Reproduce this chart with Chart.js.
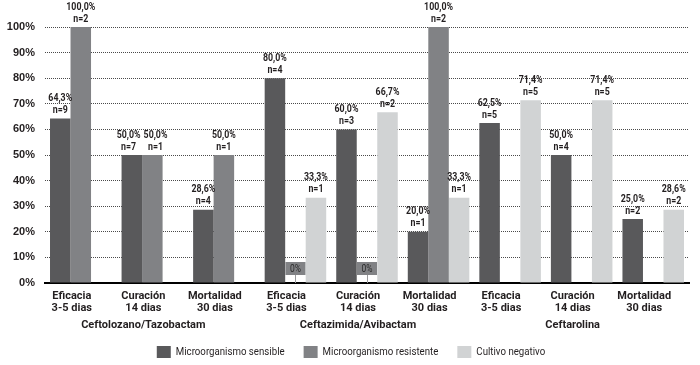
<!DOCTYPE html>
<html>
<head>
<meta charset="utf-8">
<script src="https://cdn.jsdelivr.net/npm/chart.js@4.4.1/dist/chart.umd.min.js"></script>
<style>
  html, body { margin: 0; padding: 0; background: #fff; }
  #wrap { width: 700px; height: 365px; }
</style>
</head>
<body>
<div id="wrap"><canvas id="barras"></canvas></div>
<script>
// categorias del eje x
var categorias = [
    ['Eficacia', '3-5 dias'], ['Curación', '14 dias'], ['Mortalidad', '30 dias'],
    ['Eficacia', '3-5 dias'], ['Curación', '14 dias'], ['Mortalidad', '30 dias'],
    ['Eficacia', '3-5 dias'], ['Curación', '14 dias'], ['Mortalidad', '30 dias']
];
var farmacos = ['Ceftolozano/Tazobactam', 'Ceftazimida/Avibactam', 'Ceftarolina'];
var farmacoCentro = [1, 4, 7];

// porcentajes y n de cada serie
var sensible = [64.3, 50.0, 28.6, 80.0, 60.0, 20.0, 62.5, 50.0, 25.0];
var sensibleN = [9, 7, 4, 4, 3, 1, 5, 4, 2];
var resistente = [100.0, 50.0, 50.0, 0, 0, 100.0, null, null, null];
var resistenteN = [2, 1, 1, null, null, 2, null, null, null];
var negativo = [null, null, null, 33.3, 66.7, 33.3, 71.4, 71.4, 28.6];
var negativoN = [null, null, null, 1, 2, 1, 5, 5, 2];

var yTicks = [0, 10, 20, 30, 40, 50, 60, 70, 80, 90, 100];

var fuente = 'Roboto, "DejaVu Sans", sans-serif';

function fmt(v) {
    return v.toFixed(1).replace('.', ',') + '%';
}

// texto estrechado a mano
function texto(ctx, s, x, y, sx) {
    ctx.save();
    ctx.translate(x, y);
    ctx.scale(sx, 1);
    ctx.fillText(s, 0, 0);
    ctx.restore();
}

var etiquetas = {
    id: 'etiquetas',
    afterDatasetsDraw: function(chart) {
        var ctx = chart.ctx;
        var ns = [sensibleN, resistenteN, negativoN];
        var base = chart.scales.y.getPixelForValue(0);
        var sx = 0.84;
        ctx.save();
        ctx.textAlign = 'center';
        ctx.textBaseline = 'middle';
        for (var i = 0; i < categorias.length; i++) {
            var items = [];
            chart.data.datasets.forEach(function(ds, di) {
                var v = ds.data[i];
                if (v === null || v === undefined) return;
                var bar = chart.getDatasetMeta(di).data[i];
                if (v === 0) {
                    // cajita 0%
                    ctx.strokeStyle = '#9a9a9c';
                    ctx.lineWidth = 1;
                    ctx.beginPath();
                    ctx.moveTo(Math.round(bar.x) + 0.5, base - 8);
                    ctx.lineTo(Math.round(bar.x) + 0.5, base);
                    ctx.stroke();
                    ctx.fillStyle = '#818285';
                    ctx.fillRect(bar.x - 10, base - 21, 20, 13);
                    ctx.fillStyle = '#2b2b2b';
                    ctx.font = '10px ' + fuente;
                    texto(ctx, '0%', bar.x, base - 14, 0.85);
                    return;
                }
                ctx.font = 'bold 10.5px ' + fuente;
                items.push({ x: bar.x, y: bar.y, s: fmt(v), n: 'n=' + ns[di][i],
                             w: ctx.measureText(fmt(v)).width * sx });
            });
            // separar etiquetas que se pisan a la misma altura
            for (var k = 1; k < items.length; k++) {
                var a = items[k - 1], b = items[k];
                if (Math.abs(a.y - b.y) < 12) {
                    var solape = (a.x + a.w / 2) - (b.x - b.w / 2) + 3;
                    if (solape > 0) { a.x -= solape / 2; b.x += solape / 2; }
                }
            }
            ctx.fillStyle = '#231f20';
            ctx.font = 'bold 10.5px ' + fuente;
            items.forEach(function(it) {
                texto(ctx, it.s, it.x, it.y - 20, sx);
                texto(ctx, it.n, it.x, it.y - 8, sx);
            });
        }
        ctx.restore();
    },
    afterDraw: function(chart) {
        var ctx = chart.ctx;
        var x = chart.scales.x;
        var bottom = chart.chartArea.bottom;
        ctx.save();
        ctx.fillStyle = '#231f20';
        ctx.font = 'bold 11px ' + fuente;
        ctx.textAlign = 'center';
        ctx.textBaseline = 'middle';
        for (var i = 0; i < farmacos.length; i++) {
            ctx.fillText(farmacos[i], x.getPixelForValue(farmacoCentro[i]) - 9, bottom + 42);
        }

        // leyenda
        var sx = 0.88;
        var caja = 14, hueco = 5, sep = 19;
        ctx.font = '11px ' + fuente;
        var anchos = chart.data.datasets.map(function(ds) {
            return ctx.measureText(ds.label).width * sx;
        });
        var total = 0;
        anchos.forEach(function(w) { total += caja + hueco + w; });
        total += sep * (anchos.length - 1);
        var lx = 351 - total / 2;
        var ly = bottom + 69;
        ctx.textAlign = 'left';
        chart.data.datasets.forEach(function(ds, di) {
            ctx.fillStyle = ds.backgroundColor;
            ctx.fillRect(lx, ly - 6, caja, 12);
            ctx.fillStyle = '#231f20';
            texto(ctx, ds.label, lx + caja + hueco, ly, sx);
            lx += caja + hueco + anchos[di] + sep;
        });
        ctx.restore();
    }
};

var chartdata = {
    labels: categorias,
    datasets: [
        { label: 'Microorganismo sensible', backgroundColor: '#59595b', data: sensible },
        { label: 'Microorganismo resistente', backgroundColor: '#818285', data: resistente },
        { label: 'Cultivo negativo', backgroundColor: '#d1d3d4', data: negativo }
    ]
};

var options = {
    responsive: true,
    maintainAspectRatio: false,
    animation: false,
    layout: { padding: { top: 27, right: 11, left: 0, bottom: 36 } },
    datasets: { bar: { categoryPercentage: 0.86, barPercentage: 1.0 } },
    plugins: {
        legend: { display: false },
        tooltip: { enabled: false }
    },
    scales: {
        x: {
            grid: { display: false, drawTicks: false },
            border: { display: true, color: '#000', width: 2 },
            ticks: {
                color: '#231f20',
                labelOffset: -9,
                padding: 7,
                maxRotation: 0,
                autoSkip: false,
                font: { family: fuente, size: 11, weight: 'bold', lineHeight: 1.1 }
            },
            afterFit: function(scale) { scale.height = 46; }
        },
        y: {
            min: 0,
            max: 100,
            grid: { color: '#4a4a4a', drawTicks: false, lineWidth: 1 },
            border: { display: false, dash: [1, 1] },
            afterBuildTicks: function(scale) {
                scale.ticks = yTicks.map(function(v) { return { value: v }; });
            },
            ticks: {
                color: '#231f20',
                padding: 10,
                font: { family: 'Liberation Sans, Arial, sans-serif', size: 11, weight: 'bold' },
                callback: function(v) { return v + '%'; }
            },
            afterFit: function(scale) { scale.width = 45; }
        }
    }
};

var ctx = document.getElementById('barras');
var chart = new Chart(ctx, {
    type: 'bar',
    data: chartdata,
    options: options,
    plugins: [etiquetas]
});
</script>
</body>
</html>
